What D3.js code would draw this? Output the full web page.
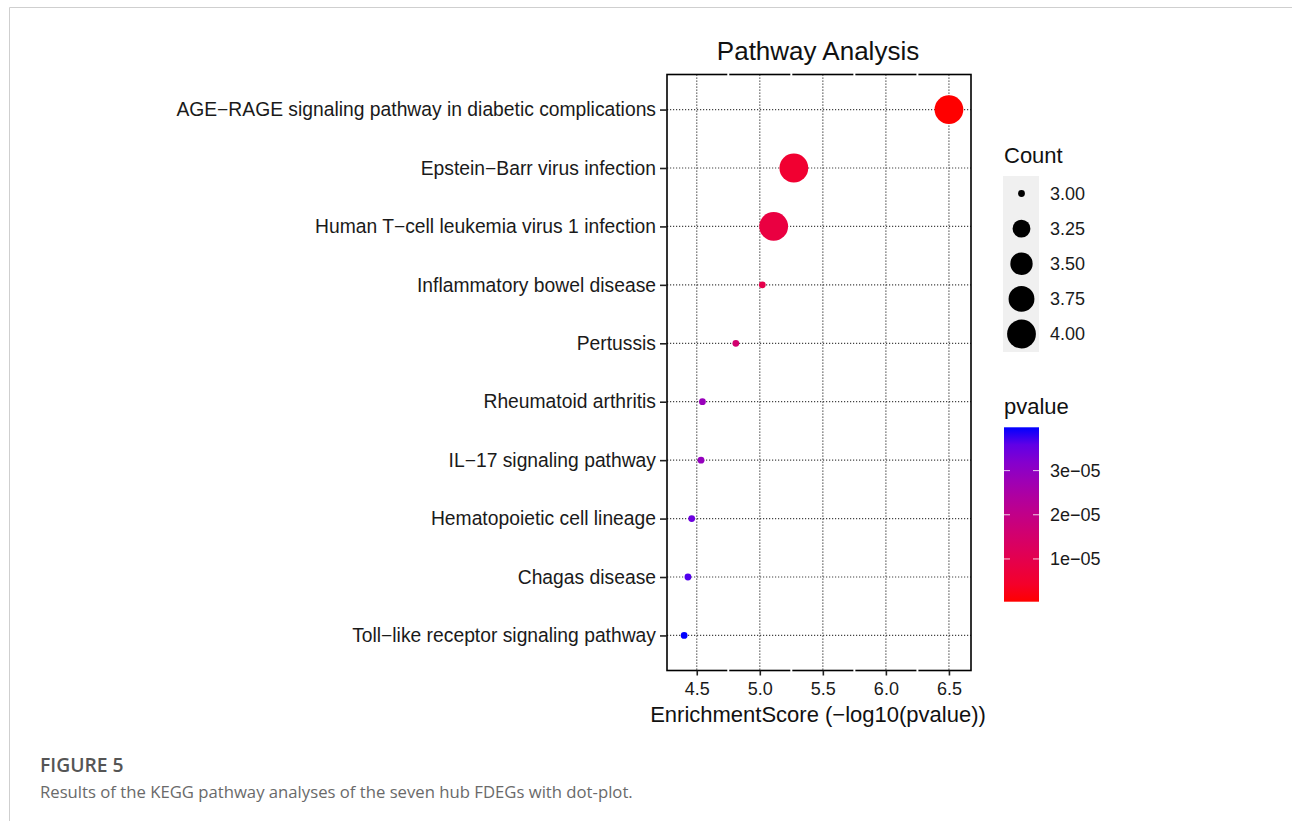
<!DOCTYPE html>
<html>
<head>
<meta charset="utf-8">
<script src="https://cdn.jsdelivr.net/npm/d3@7"></script>
<style>
  body { margin: 0; background: #fff; }
  svg { display: block; }
</style>
</head>
<body>
<div id="chart"></div>
<script>
// pathway data (top to bottom)
const pathways = [
  "AGE−RAGE signaling pathway in diabetic complications",
  "Epstein−Barr virus infection",
  "Human T−cell leukemia virus 1 infection",
  "Inflammatory bowel disease",
  "Pertussis",
  "Rheumatoid arthritis",
  "IL−17 signaling pathway",
  "Hematopoietic cell lineage",
  "Chagas disease",
  "Toll−like receptor signaling pathway"
];
const scores = [6.50, 5.27, 5.11, 5.02, 4.81, 4.545, 4.534, 4.46, 4.43, 4.40];
const counts = [4, 4, 4, 3, 3, 3, 3, 3, 3, 3];
const xTicks = [4.5, 5.0, 5.5, 6.0, 6.5];
const sizeBreaks = [3.00, 3.25, 3.50, 3.75, 4.00];
const pBreaks = [1e-05, 2e-05, 3e-05];

const width = 1292, height = 821;
const margin = { top: 74.5, right: 321, bottom: 150.5, left: 667 };
const FONT = "Liberation Sans, Arial, sans-serif";

const svg = d3.select("#chart")
  .append("svg")
  .attr("width", width)
  .attr("height", height);

// page frame
svg.append("path")
  .attr("d", `M9.5,${height} V7.5 H${width}`)
  .attr("fill", "none")
  .attr("stroke", "#cfcfcf")
  .attr("stroke-width", 1);

const data = pathways.map((p, i) => ({ name: p, score: scores[i], count: counts[i], p: Math.pow(10, -scores[i]) }));

let x = d3.scaleLinear()
  .domain([4.264, 6.675])
  .range([margin.left, width - margin.right]);

let y = d3.scalePoint()
  .domain(pathways)
  .range([margin.top, height - margin.bottom])
  .padding(0.6);

// ggplot-like area size scale
const norm = d3.scaleLinear().domain([3, 4]);
const rLin = d3.scaleLinear().domain([0, 1]).range([3.4, 14.4]);
const r = c => rLin(Math.sqrt(norm(c)));

const pExtent = d3.extent(data, d => d.p);
const color = d3.scaleLinear()
  .domain(pExtent)
  .range(["red", "blue"])
  .interpolate(d3.interpolateLab);

const x0 = margin.left, x1 = width - margin.right;
const y0 = margin.top, y1 = height - margin.bottom;

// grid lines
svg.append("g")
  .selectAll("line")
  .data(xTicks)
  .join("line")
  .attr("x1", d => x(d)).attr("x2", d => x(d))
  .attr("y1", y0).attr("y2", y1)
  .attr("stroke", "#444")
  .attr("stroke-width", 1.2)
  .attr("stroke-dasharray", "1.2,1.8");

svg.append("g")
  .selectAll("line")
  .data(pathways)
  .join("line")
  .attr("x1", x0).attr("x2", x1)
  .attr("y1", d => y(d)).attr("y2", d => y(d))
  .attr("stroke", "#444")
  .attr("stroke-width", 1.2)
  .attr("stroke-dasharray", "1.2,1.8");

// points
svg.append("g")
  .selectAll("circle")
  .data(data)
  .join("circle")
  .attr("cx", d => x(d.score))
  .attr("cy", d => y(d.name))
  .attr("r", d => r(d.count))
  .attr("fill", d => color(d.p));

// panel border
svg.append("rect")
  .attr("x", x0).attr("y", y0)
  .attr("width", x1 - x0).attr("height", y1 - y0)
  .attr("fill", "none")
  .attr("stroke", "#000")
  .attr("stroke-width", 1.6);

// little white breaks on border at minor positions
const minor = d3.range(4.75, 6.5, 0.5);
svg.append("g")
  .selectAll("line")
  .data(minor.flatMap(m => [[m, y0], [m, y1]]))
  .join("line")
  .attr("x1", d => x(d[0])).attr("x2", d => x(d[0]))
  .attr("y1", d => d[1] - 1.5).attr("y2", d => d[1] + 1.5)
  .attr("stroke", "#fff")
  .attr("stroke-width", 2);

// Y axis
const yAxis = svg.append("g")
  .attr("transform", `translate(${x0},0)`)
  .call(d3.axisLeft(y).tickSize(7).tickPadding(4));
yAxis.select(".domain").remove();
yAxis.selectAll("line").attr("stroke", "#222").attr("stroke-width", 1.6);
yAxis.selectAll("text")
  .attr("font-family", FONT)
  .attr("font-size", 19.3)
  .attr("fill", "#1a1a1a");

// X axis
const xAxis = svg.append("g")
  .attr("transform", `translate(0,${y1})`)
  .call(d3.axisBottom(x).tickValues(xTicks).tickFormat(d3.format(".1f")).tickSize(5).tickPadding(7));
xAxis.select(".domain").remove();
xAxis.selectAll("line").attr("stroke", "#222").attr("stroke-width", 1.6);
xAxis.selectAll("text")
  .attr("font-family", FONT)
  .attr("font-size", 18)
  .attr("fill", "#1a1a1a");

// title
svg.append("text")
  .attr("x", (x0 + x1) / 2 - 1)
  .attr("y", 60)
  .attr("text-anchor", "middle")
  .attr("font-family", FONT)
  .attr("font-size", 26)
  .attr("fill", "#111")
  .text("Pathway Analysis");

// x label
svg.append("text")
  .attr("x", (x0 + x1) / 2 - 1)
  .attr("y", 722)
  .attr("text-anchor", "middle")
  .attr("font-family", FONT)
  .attr("font-size", 22)
  .attr("fill", "#111")
  .text("EnrichmentScore (−log10(pvalue))");

// size legend
const lg = svg.append("g").attr("transform", "translate(1003,0)");
lg.append("text")
  .attr("x", 1).attr("y", 163)
  .attr("font-family", FONT)
  .attr("font-size", 22)
  .attr("fill", "#111")
  .text("Count");
lg.append("rect")
  .attr("x", 0).attr("y", 176)
  .attr("width", 36).attr("height", 176)
  .attr("fill", "#f0f0f0");
const keyY = d3.scalePoint().domain(sizeBreaks).range([193.5, 334]);
lg.selectAll("circle.key")
  .data(sizeBreaks)
  .join("circle")
  .attr("class", "key")
  .attr("cx", 18.5)
  .attr("cy", d => keyY(d))
  .attr("r", d => r(d))
  .attr("fill", "#000");
lg.selectAll("text.key")
  .data(sizeBreaks)
  .join("text")
  .attr("class", "key")
  .attr("x", 47)
  .attr("y", d => keyY(d))
  .attr("dy", "0.35em")
  .attr("font-family", FONT)
  .attr("font-size", 18)
  .attr("fill", "#1a1a1a")
  .text(d => d3.format(".2f")(d));

// colour bar legend
const cbTop = 427.3, cbBottom = 601.7, cbW = 35;
lg.append("text")
  .attr("x", 1).attr("y", 414)
  .attr("font-family", FONT)
  .attr("font-size", 22)
  .attr("fill", "#111")
  .text("pvalue");

const defs = svg.append("defs");
const grad = defs.append("linearGradient")
  .attr("id", "pgrad")
  .attr("x1", 0).attr("y1", 1).attr("x2", 0).attr("y2", 0);
d3.range(0, 1.0001, 0.1).forEach(t => {
  grad.append("stop")
    .attr("offset", t)
    .attr("stop-color", color(pExtent[0] + t * (pExtent[1] - pExtent[0])));
});
const cbY = d3.scaleLinear().domain(pExtent).range([cbBottom, cbTop]);
lg.append("rect")
  .attr("x", 1).attr("y", cbTop)
  .attr("width", cbW).attr("height", cbBottom - cbTop)
  .attr("fill", "url(#pgrad)");
lg.selectAll("line.cbt")
  .data(pBreaks.flatMap(p => [[p, 1, 7], [p, cbW - 5, cbW + 1]]))
  .join("line")
  .attr("class", "cbt")
  .attr("x1", d => d[1]).attr("x2", d => d[2])
  .attr("y1", d => cbY(d[0])).attr("y2", d => cbY(d[0]))
  .attr("stroke", "#fff")
  .attr("stroke-opacity", 0.8)
  .attr("stroke-width", 1);
lg.selectAll("text.cbl")
  .data(pBreaks)
  .join("text")
  .attr("class", "cbl")
  .attr("x", 47)
  .attr("y", d => cbY(d))
  .attr("dy", "0.35em")
  .attr("font-family", FONT)
  .attr("font-size", 18)
  .attr("fill", "#1a1a1a")
  .text(d => d3.format(".0e")(d).replace("e-", "e−0"));

// caption
svg.append("text")
  .attr("x", 40).attr("y", 772)
  .attr("font-family", "Open Sans, sans-serif")
  .attr("font-size", 19.3)
  .attr("font-weight", 600)
  .attr("fill", "#555")
  .text("FIGURE 5");
svg.append("text")
  .attr("x", 40).attr("y", 798)
  .attr("font-family", "Open Sans, sans-serif")
  .attr("font-size", 16.7)
  .attr("fill", "#6a6a6a")
  .text("Results of the KEGG pathway analyses of the seven hub FDEGs with dot-plot.");
</script>
</body>
</html>
